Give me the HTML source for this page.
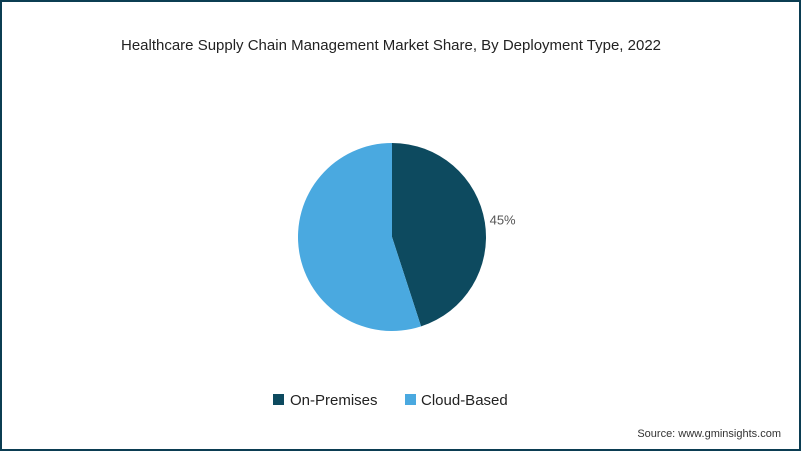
<!DOCTYPE html>
<html><head><meta charset="utf-8"><style>
body{margin:0;width:801px;height:451px;overflow:hidden;background:#fff;font-family:"Liberation Sans",sans-serif}
#frame{position:absolute;left:0;top:0;width:797px;height:447px;border:2px solid #0b3d52;}
</style></head><body>
<div id="frame"></div>
<svg width="801" height="451" style="position:absolute;left:0;top:0">
<text x="391" y="50" text-anchor="middle" font-size="15" fill="#222">Healthcare Supply Chain Management Market Share, By Deployment Type, 2022</text>
<g id="pie"></g>
<g>
<rect x="273" y="394" width="11" height="11" fill="#0d4a5f"/>
<text x="290" y="405" font-size="15" fill="#222">On-Premises</text>
<rect x="405" y="394" width="11" height="11" fill="#4aa9e0"/>
<text x="421" y="405" font-size="15" fill="#222">Cloud-Based</text>
</g>
<text x="781" y="437" text-anchor="end" font-size="11" fill="#333">Source: www.gminsights.com</text>
</svg>
<script>
const categories=["On-Premises","Cloud-Based"];
const values=[45,55];
const labels=["45%",""];
const colors=["#0d4a5f","#4aa9e0"];
const cx=392,cy=237,r=94;
const g=document.getElementById('pie');
const total=values.reduce((a,b)=>a+b,0);
let a0=0;
const pt=(a,rr)=>[cx+rr*Math.sin(a),cy-rr*Math.cos(a)];
values.forEach((v,i)=>{
  const a1=a0+v/total*2*Math.PI;
  const p0=pt(a0,r),p1=pt(a1,r);
  const large=(a1-a0)>Math.PI?1:0;
  const p=document.createElementNS('http://www.w3.org/2000/svg','path');
  p.setAttribute('d',`M${cx},${cy}L${p0[0]},${p0[1]}A${r},${r} 0 ${large} 1 ${p1[0]},${p1[1]}Z`);
  p.setAttribute('fill',colors[i]);
  
  
  g.appendChild(p);
  if(labels[i]){
    const m=(a0+a1)/2, lp=pt(m,r+18);
    const t=document.createElementNS('http://www.w3.org/2000/svg','text');
    t.setAttribute('x',lp[0]);t.setAttribute('y',lp[1]+5);
    t.setAttribute('text-anchor','middle');t.setAttribute('font-size','13');t.setAttribute('fill','#555');
    t.textContent=labels[i];
    
    
    g.appendChild(t);
  }
  a0=a1;
});
</script>
</body></html>
